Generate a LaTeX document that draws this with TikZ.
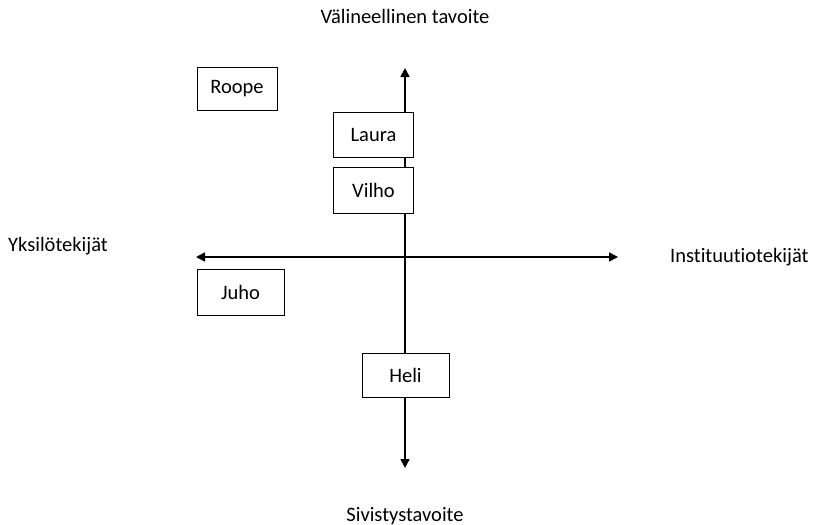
\documentclass[tikz,border=0pt]{standalone}
\usepackage{fontspec}
\setmainfont{Carlito}[Ligatures={NoCommon}]
\usetikzlibrary{arrows.meta}

\tikzset{
  person/.style={draw, fill=white, line width=0.9pt, inner sep=0pt, minimum height=44pt},
  axis/.style={line width=1.6pt, -{Triangle[length=9pt,width=9pt]}},
  label/.style={inner sep=0pt}
}

\begin{document}
\begin{tikzpicture} [x=1pt, y=-1pt, font=\fontsize{20.5}{24}\selectfont]

\useasboundingbox (0,0) rectangle (817,525);

\coordinate (top) at (405, 68);
\coordinate (bottom) at (405, 468);
\coordinate (left) at (196, 257);
\coordinate (right) at (618, 257);
\coordinate (origin) at (405, 257);

\draw [axis] (origin) -- (top);
\draw [axis] (origin) -- (bottom);
\draw [axis] (origin) -- (left);
\draw [axis] (origin) -- (right);

\node [person, minimum width=80pt, minimum height=43pt] (roope) at (237, 88.5) {Roope};
\node [person, minimum width=80pt, minimum height=45pt] (laura) at (373.5, 134.5) {Laura};
\node [person, minimum width=80pt, minimum height=46pt] (vilho) at (373.5, 190) {Vilho};
\node [person, minimum width=87pt, minimum height=46pt] (juho) at (240.5, 292) {Juho};
\node [person, minimum width=87pt, minimum height=44pt] (heli) at (405.5, 375) {Heli};

\node [label] (valine) at (405, 16) {Välineellinen tavoite};
\node [label] (sivistys) at (405, 516) {Sivistystavoite};
\node [label, anchor=west] (yksilo) at (8, 246) {Yksilötekijät};
\node [label, anchor=west] (instituutio) at (670, 257) {Instituutiotekijät};

\end{tikzpicture}
\end{document}
